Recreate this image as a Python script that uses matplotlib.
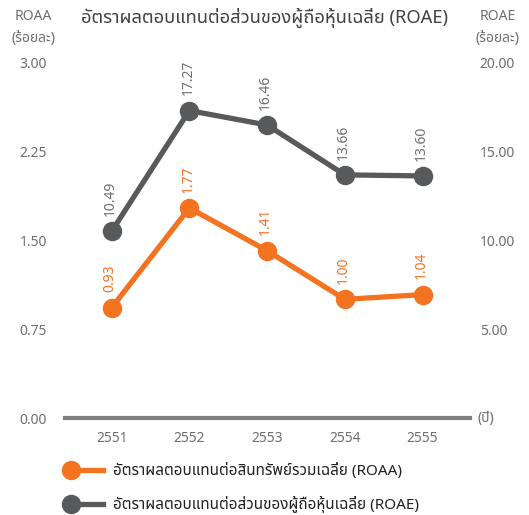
import numpy as np
import matplotlib
matplotlib.use('Agg')
import matplotlib.pyplot as plt
from matplotlib.legend_handler import HandlerLine2D

plt.rcParams['font.family'] = ['Noto Sans Thai', 'Noto Sans', 'DejaVu Sans']

years = ['2551', '2552', '2553', '2554', '2555']
roaa = [0.93, 1.77, 1.41, 1.00, 1.04]
roae = [10.49, 17.27, 16.46, 13.66, 13.60]
roaa_ticks = [0.00, 0.75, 1.50, 2.25, 3.00]
roae_ticks = [5.00, 10.00, 15.00, 20.00]

c_orange = '#f37321'
c_dark = '#58595b'
c_text = '#6d6e71'


class LeftMarker(HandlerLine2D):
    # marker sits on the left end of the legend line
    def create_artists(self, *args, **kwargs):
        arts = super().create_artists(*args, **kwargs)
        for a in arts:
            if a.get_markevery() is not None:
                a.set_markevery([0])
        return arts


fig = plt.figure(figsize=(5.29, 5.15), dpi=100)
ax = fig.add_axes([0.1229, 0.1883, 0.7656, 0.6913])
ax2 = ax.twinx()

x = np.arange(len(years))
l1, = ax.plot(x, roaa, color=c_orange, lw=3.8, marker='o', ms=13, zorder=3,
              label='อัตราผลตอบแทนต่อสินทรัพย์รวมเฉลี่ย (ROAA)')
l2, = ax2.plot(x, roae, color=c_dark, lw=3.8, marker='o', ms=13, zorder=3,
               label='อัตราผลตอบแทนต่อส่วนของผู้ถือหุ้นเฉลี่ย (ROAE)')

for i, v in enumerate(roaa):
    ax.annotate('%.2f' % v, (i, v), xytext=(-1, 11), textcoords='offset points',
                rotation=90, ha='center', va='bottom', color=c_orange, fontsize=10)
for i, v in enumerate(roae):
    ax2.annotate('%.2f' % v, (i, v), xytext=(-1, 11), textcoords='offset points',
                 rotation=90, ha='center', va='bottom', color=c_text, fontsize=10)

ax.set_xlim(-0.6, 4.61)
ax.set_ylim(0, 3)
ax2.set_ylim(0, 20)
ax.set_xticks(x)
ax.set_xticklabels(years)
ax.set_yticks(roaa_ticks)
ax.set_yticklabels(['%.2f' % t for t in roaa_ticks])
ax2.set_yticks(roae_ticks)
ax2.set_yticklabels(['%.2f' % t for t in roae_ticks])

for a in (ax, ax2):
    for s in ['top', 'right', 'left', 'bottom']:
        a.spines[s].set_visible(False)
ax.spines['bottom'].set_visible(True)
ax.spines['bottom'].set_color('#808080')
ax.spines['bottom'].set_linewidth(3)
ax.spines['bottom'].set_zorder(1)

ax.tick_params(axis='x', length=0, pad=9, labelsize=10, labelcolor=c_text)
ax.tick_params(axis='y', length=0, pad=13, labelsize=10, labelcolor=c_text)
ax2.tick_params(axis='y', length=0, pad=7, labelsize=10, labelcolor=c_text)

# axis unit labels
for xf, name in [(0.0624, 'ROAA'), (0.94, 'ROAE')]:
    fig.text(xf, 0.967, name, ha='center', va='center', fontsize=10, color=c_text)
    fig.text(xf, 0.926, '(ร้อยละ)', ha='center', va='center', fontsize=10, color=c_text)

fig.text(0.5, 0.965, 'อัตราผลตอบแทนต่อส่วนของผู้ถือหุ้นเฉลี่ย (ROAE)', ha='center',
         va='center', fontsize=13.2, color='#414042')
fig.text(0.903, 0.188, '(ปี)', ha='left', va='center', fontsize=10, color=c_text)

fig.legend(handles=[l1, l2], loc='upper left', bbox_to_anchor=(0.119, 0.115),
           frameon=False, fontsize=11, labelcolor='#231f20', handlelength=2.15,
           handletextpad=0.6, labelspacing=1.1, borderpad=0,
           handler_map={matplotlib.lines.Line2D: LeftMarker()})

fig.savefig('out.png')
